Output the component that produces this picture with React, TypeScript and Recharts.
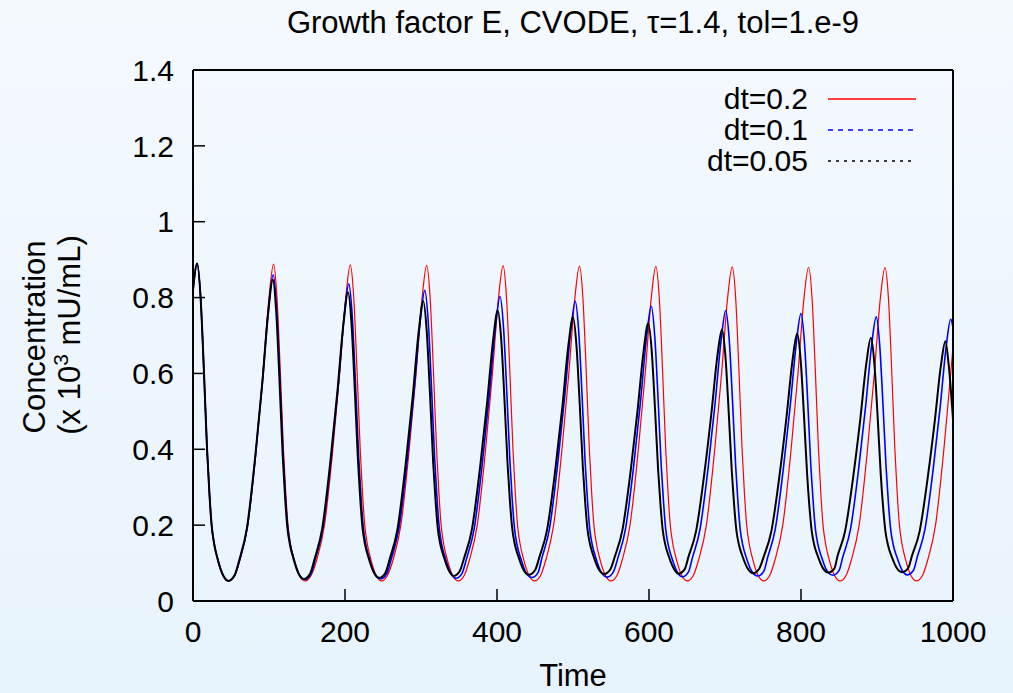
import { Line, LineChart, XAxis, YAxis } from "recharts";

// [time, concentration]
const dt02: [number, number][] = [
  [0, 0.82], [5.5, 0.89], [10, 0.8], [14.5, 0.6], [18.5, 0.4], [21.5, 0.287], [24.5, 0.2], [28, 0.149], [32.5, 0.11], [39.5, 0.068], [47, 0.053], [55, 0.068],
  [62, 0.11], [72, 0.2], [83, 0.4], [92, 0.6], [100, 0.8], [106, 0.888],
  [110.5, 0.8], [115, 0.6], [119, 0.4], [122, 0.287], [125, 0.2], [128.5, 0.149], [133, 0.11], [140, 0.068], [147.5, 0.053], [155.5, 0.068],
  [163, 0.11], [173, 0.2], [184, 0.4], [193, 0.6], [201, 0.8], [207, 0.886],
  [211.5, 0.8], [216, 0.6], [220, 0.4], [223, 0.287], [226, 0.2], [229.5, 0.149], [234, 0.11], [241, 0.068], [248, 0.053], [256, 0.068],
  [263.5, 0.11], [273.5, 0.2], [284.5, 0.4], [293.5, 0.6], [301.5, 0.8], [307.5, 0.885],
  [312, 0.8], [316.5, 0.6], [320.5, 0.4], [323.5, 0.287], [326.5, 0.2], [330, 0.149], [334.5, 0.11], [341.5, 0.068], [349, 0.053], [357, 0.068],
  [364, 0.11], [374, 0.2], [385, 0.4], [394, 0.6], [402, 0.8], [408, 0.884],
  [412.5, 0.8], [417, 0.6], [421, 0.4], [424, 0.287], [427, 0.2], [430.5, 0.149], [435, 0.11], [442, 0.068], [449.5, 0.053], [457.5, 0.068],
  [464.5, 0.11], [474.5, 0.2], [485.5, 0.4], [494.5, 0.6], [502.5, 0.8], [508.5, 0.883],
  [513, 0.8], [517.5, 0.6], [521.5, 0.4], [524.5, 0.287], [527.5, 0.2], [531, 0.149], [535.5, 0.11], [542.5, 0.068], [550, 0.053], [558, 0.068],
  [565, 0.11], [575, 0.2], [586, 0.4], [595, 0.6], [603, 0.8], [609, 0.882],
  [613.5, 0.8], [618, 0.6], [622, 0.4], [625, 0.287], [628, 0.2], [631.5, 0.149], [636, 0.11], [643, 0.068], [650.5, 0.053], [658.5, 0.068],
  [665.5, 0.11], [675.5, 0.2], [686.5, 0.4], [695.5, 0.6], [703.5, 0.8], [709.5, 0.881],
  [714, 0.8], [718.5, 0.6], [722.5, 0.4], [725.5, 0.287], [728.5, 0.2], [732, 0.149], [736.5, 0.11], [743.5, 0.068], [751, 0.053], [759, 0.068],
  [766, 0.11], [776, 0.2], [787, 0.4], [796, 0.6], [804, 0.8], [810, 0.88],
  [814.5, 0.8], [819, 0.6], [823, 0.4], [826, 0.287], [829, 0.2], [832.5, 0.149], [837, 0.11], [844, 0.068], [851.5, 0.053], [859.5, 0.068],
  [866.5, 0.11], [876.5, 0.2], [887.5, 0.4], [896.5, 0.6], [904.5, 0.8], [910.5, 0.879],
  [915, 0.8], [919.5, 0.6], [923.5, 0.4], [926.5, 0.287], [929.5, 0.2], [933, 0.149], [937.5, 0.11], [944.5, 0.068], [952, 0.053], [960, 0.068],
  [967, 0.11], [977, 0.2], [988, 0.4], [997, 0.6], [1000, 0.67],
];

const dt01: [number, number][] = [
  [0, 0.82], [5.5, 0.89], [10, 0.8], [14.5, 0.6], [18.5, 0.4], [21.5, 0.287], [24.5, 0.2], [28, 0.149], [32.5, 0.11], [39.5, 0.068], [47, 0.053], [55, 0.068],
  [61.5, 0.109], [71.5, 0.195], [82.5, 0.388], [91.5, 0.58], [99.5, 0.773], [105.5, 0.86],
  [110, 0.773], [114.5, 0.581], [118.5, 0.39], [121.5, 0.281], [124.5, 0.198], [128, 0.148], [132.5, 0.112], [139.5, 0.07], [147, 0.056], [155, 0.07],
  [161, 0.111], [171, 0.193], [182, 0.38], [191, 0.565], [199, 0.752], [205, 0.836],
  [209.5, 0.752], [214, 0.566], [218, 0.381], [221, 0.276], [224, 0.195], [227.5, 0.147], [232, 0.112], [239, 0.072], [247, 0.058], [255, 0.072],
  [261, 0.111], [271, 0.192], [282, 0.374], [291, 0.555], [299, 0.737], [305, 0.819],
  [309.5, 0.737], [314, 0.556], [318, 0.375], [321, 0.273], [324, 0.194], [327.5, 0.147], [332, 0.113], [339, 0.074], [346, 0.06], [354, 0.073],
  [360, 0.112], [370, 0.191], [381, 0.368], [390, 0.545], [398, 0.723], [404, 0.803],
  [408.5, 0.723], [413, 0.546], [417, 0.37], [420, 0.269], [423, 0.192], [426.5, 0.147], [431, 0.114], [438, 0.075], [446, 0.062], [454, 0.075],
  [459, 0.113], [469, 0.19], [480, 0.364], [489, 0.537], [497, 0.711], [503, 0.79],
  [507.5, 0.711], [512, 0.538], [516, 0.365], [519, 0.267], [522, 0.191], [525.5, 0.147], [530, 0.114], [537, 0.076], [545, 0.063], [553, 0.076],
  [559, 0.113], [569, 0.189], [580, 0.359], [589, 0.529], [597, 0.7], [603, 0.777],
  [607.5, 0.7], [612, 0.53], [616, 0.36], [619, 0.264], [622, 0.189], [625.5, 0.146], [630, 0.114], [637, 0.077], [644, 0.064], [652, 0.077],
  [657, 0.113], [667, 0.188], [678, 0.355], [687, 0.522], [695, 0.69], [701, 0.766],
  [705.5, 0.69], [710, 0.523], [714, 0.357], [717, 0.262], [720, 0.189], [723.5, 0.146], [728, 0.115], [735, 0.079], [743, 0.066], [751, 0.078],
  [756, 0.114], [766, 0.188], [777, 0.353], [786, 0.518], [794, 0.683], [800, 0.758],
  [804.5, 0.683], [809, 0.519], [813, 0.354], [816, 0.261], [819, 0.189], [822.5, 0.147], [827, 0.116], [834, 0.08], [842, 0.068], [850, 0.08],
  [855, 0.116], [865, 0.188], [876, 0.351], [885, 0.513], [893, 0.675], [899, 0.749],
  [903.5, 0.676], [908, 0.513], [912, 0.351], [915, 0.259], [918, 0.189], [921.5, 0.147], [926, 0.117], [933, 0.081], [940, 0.069], [948, 0.081],
  [953, 0.116], [963, 0.188], [974, 0.349], [983, 0.509], [991, 0.67], [997, 0.743],
  [1000, 0.72],
];

const dt005: [number, number][] = [
  [0, 0.82], [5.5, 0.89], [10, 0.8], [14.5, 0.6], [18.5, 0.4], [21.5, 0.287], [24.5, 0.2], [28, 0.149], [32.5, 0.11], [39.5, 0.068], [46.5, 0.053], [54.5, 0.067],
  [61, 0.109], [71, 0.193], [82, 0.383], [91, 0.571], [99, 0.761], [105, 0.847],
  [109.5, 0.762], [114, 0.573], [118, 0.385], [121, 0.279], [124, 0.197], [127.5, 0.149], [132, 0.113], [139, 0.072], [146, 0.058], [154, 0.072],
  [160, 0.111], [170, 0.191], [181, 0.372], [190, 0.552], [198, 0.732], [204, 0.814],
  [208.5, 0.733], [213, 0.553], [217, 0.373], [220, 0.272], [223, 0.194], [226.5, 0.148], [231, 0.114], [238, 0.075], [245, 0.061], [253, 0.074],
  [259, 0.112], [269, 0.189], [280, 0.364], [289, 0.537], [297, 0.711], [303, 0.79],
  [307.5, 0.712], [312, 0.539], [316, 0.366], [319, 0.269], [322, 0.193], [325.5, 0.149], [330, 0.117], [337, 0.079], [343, 0.066], [351, 0.079],
  [357, 0.115], [367, 0.189], [378, 0.357], [387, 0.523], [395, 0.69], [401, 0.766],
  [405.5, 0.691], [410, 0.524], [414, 0.358], [417, 0.264], [420, 0.192], [423.5, 0.149], [428, 0.118], [435, 0.082], [442, 0.069], [450, 0.081],
  [456, 0.117], [466, 0.189], [477, 0.351], [486, 0.512], [494, 0.675], [500, 0.748],
  [504.5, 0.675], [509, 0.513], [513, 0.352], [516, 0.261], [519, 0.19], [522.5, 0.149], [527, 0.118], [534, 0.083], [541, 0.071], [549, 0.083],
  [555, 0.117], [565, 0.187], [576, 0.345], [585, 0.503], [593, 0.661], [599, 0.732],
  [603.5, 0.661], [608, 0.503], [612, 0.346], [615, 0.257], [618, 0.188], [621.5, 0.148], [626, 0.118], [633, 0.084], [639, 0.072], [647, 0.084],
  [652, 0.117], [662, 0.185], [673, 0.339], [682, 0.493], [690, 0.646], [696, 0.716],
  [700.5, 0.647], [705, 0.493], [709, 0.34], [712, 0.253], [715, 0.186], [718.5, 0.147], [723, 0.118], [730, 0.085], [737, 0.073], [745, 0.085],
  [751, 0.117], [761, 0.184], [772, 0.335], [781, 0.486], [789, 0.637], [795, 0.705],
  [799.5, 0.637], [804, 0.486], [808, 0.336], [811, 0.251], [814, 0.186], [817.5, 0.147], [822, 0.119], [829, 0.086], [836, 0.075], [844, 0.086],
  [848, 0.118], [858, 0.184], [869, 0.332], [878, 0.479], [886, 0.627], [892, 0.694],
  [896.5, 0.627], [901, 0.48], [905, 0.332], [908, 0.249], [911, 0.185], [914.5, 0.147], [919, 0.119], [926, 0.087], [933, 0.076], [941, 0.087],
  [946, 0.119], [956, 0.183], [967, 0.329], [976, 0.474], [984, 0.619], [990, 0.685],
  [994.5, 0.619], [1000, 0.48],
];

const xTicks = [0, 200, 400, 600, 800, 1000];
const yTicks = [0, 0.2, 0.4, 0.6, 0.8, 1, 1.2, 1.4];

const series = [
  { name: "dt=0.2", points: dt02, color: "#ff0000", width: 1.2, dash: undefined },
  { name: "dt=0.1", points: dt01, color: "#0000ff", width: 1.6, dash: "5 5" },
  { name: "dt=0.05", points: dt005, color: "#000000", width: 2, dash: "3 5" },
];

const FONT = '"Liberation Sans", Arial, Helvetica, sans-serif';
const tickStyle = { fill: "#000", fontSize: 30, fontFamily: FONT };
const frame = { stroke: "#000", strokeWidth: 2 };
const tickLine = { stroke: "#000", strokeWidth: 1.5 };

const toRows = (pts: [number, number][]) => pts.map(([t, v]) => ({ t, v }));

const App = () => {
  return (
    <div
      style={{
        position: "absolute",
        left: 0,
        top: 0,
        width: 1013,
        height: 693,
        background: "linear-gradient(#f4f9fe, #e7f3fc)",
        fontFamily: FONT,
      }}
    >
      <LineChart width={1013} height={693} margin={{ top: 69, right: 59, bottom: 52, left: 133 }}>
        <XAxis
          xAxisId="b"
          type="number"
          dataKey="t"
          domain={[0, 1000]}
          ticks={xTicks}
          interval={0}
          allowDataOverflow
          height={40}
          axisLine={frame}
          tickLine={tickLine}
          tickSize={-12}
          tickMargin={32}
          tick={tickStyle}
        />
        <XAxis
          xAxisId="t"
          orientation="top"
          type="number"
          dataKey="t"
          domain={[0, 1000]}
          ticks={xTicks}
          interval={0}
          allowDataOverflow
          height={1}
          axisLine={frame}
          tickLine={tickLine}
          tickSize={-12}
          tick={false}
        />
        <YAxis
          yAxisId="l"
          type="number"
          domain={[0, 1.4]}
          ticks={yTicks}
          interval={0}
          allowDataOverflow
          width={60}
          axisLine={frame}
          tickLine={tickLine}
          tickSize={-12}
          tickMargin={31}
          tick={tickStyle}
        />
        <YAxis
          yAxisId="r"
          orientation="right"
          type="number"
          domain={[0, 1.4]}
          ticks={yTicks}
          interval={0}
          allowDataOverflow
          width={1}
          axisLine={frame}
          tickLine={tickLine}
          tickSize={-12}
          tick={false}
        />
        {/* invisible copy so the mirrored top/right axes have a series */}
        <Line
          xAxisId="t"
          yAxisId="r"
          data={toRows(dt02)}
          dataKey="v"
          stroke="none"
          dot={false}
          activeDot={false}
          legendType="none"
          isAnimationActive={false}
        />
        {series.map((s) => (
          <Line
            key={s.name}
            xAxisId="b"
            yAxisId="l"
            data={toRows(s.points)}
            dataKey="v"
            type="monotone"
            stroke={s.color}
            strokeWidth={s.width}
            dot={false}
            isAnimationActive={false}
          />
        ))}
      </LineChart>
      <svg
        width={1013}
        height={693}
        style={{ position: "absolute", left: 0, top: 0, pointerEvents: "none" }}
        fontFamily={FONT}
        fontSize={31}
      >
        <text x={573} y={33} textAnchor="middle">
          Growth factor E, CVODE, τ=1.4, tol=1.e-9
        </text>
        <text x={573} y={686} textAnchor="middle">
          Time
        </text>
        <g transform="rotate(-90)">
          <text x={-337} y={45} textAnchor="middle">
            Concentration
          </text>
          <text x={-335} y={80} textAnchor="middle">
            (x 10<tspan dy={-12} fontSize={21}>3</tspan>
            <tspan dy={12}> mU/mL)</tspan>
          </text>
        </g>
        {series.map((s, i) => (
          <g key={s.name}>
            <text x={808} y={109 + i * 31} textAnchor="end" fontSize={30}>
              {s.name}
            </text>
            <line
              x1={828}
              x2={916}
              y1={99 + i * 31}
              y2={99 + i * 31}
              stroke={s.color}
              strokeWidth={1.3}
              strokeDasharray={s.dash}
            />
          </g>
        ))}
      </svg>
    </div>
  );
};

export default App;
